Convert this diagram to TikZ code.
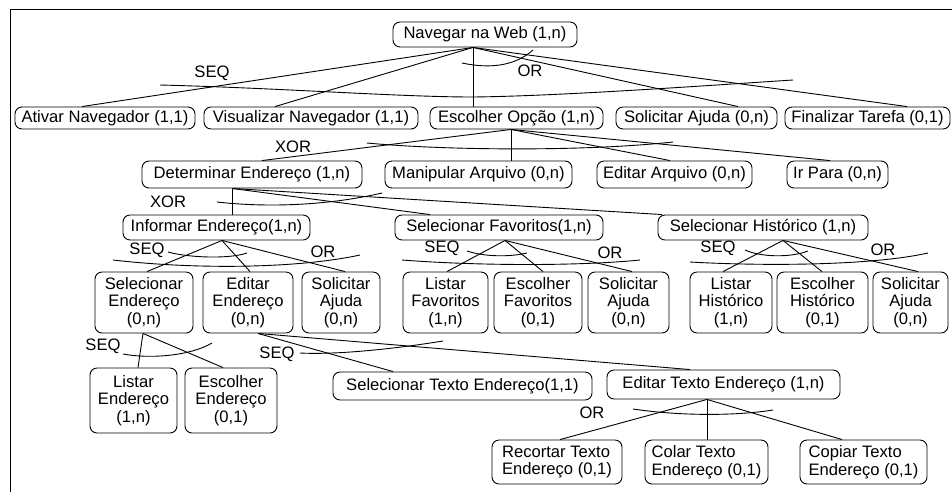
\documentclass[tikz,border=0pt]{standalone}
\usepackage{fontspec}
\setmainfont{Liberation Sans}
\begin{document}
\begin{tikzpicture}[x=1pt,y=-1pt,
  task/.style={draw, rounded corners=7pt, line width=0.9pt, inner sep=0pt,
    align=center, font=\fontsize{16.6}{17.5}\selectfont},
  link/.style={line width=0.9pt},
  oplabel/.style={font=\fontsize{16.6}{17.5}\selectfont, inner sep=0pt}]
\useasboundingbox (0,0) rectangle (952,491);
% frame
\begin{scope}
  \clip (0,0) rectangle (952,491);
  \draw[line width=1pt] (10,530) -- (10,9) -- (990,9);
\end{scope}

% level 0
\node[task, minimum width=184pt, minimum height=25pt] (nav) at (485,34.5) {Navegar na Web (1,n)};

% level 1
\node[task, minimum width=180pt, minimum height=22pt] (ativ) at (105,118) {Ativar Navegador (1,1)};
\node[task, minimum width=214pt, minimum height=22pt] (visu) at (311,118) {Visualizar Navegador (1,1)};
\node[task, minimum width=173pt, minimum height=22pt] (esco) at (516.5,118) {Escolher Opção (1,n)};
\node[task, minimum width=161pt, minimum height=22pt] (soli) at (696.5,118) {Solicitar Ajuda (0,n)};
\node[task, minimum width=165pt, minimum height=22pt] (fina) at (867.5,118) {Finalizar Tarefa (0,1)};

% level 2
\node[task, minimum width=220pt, minimum height=27pt] (dete) at (252,174.5) {Determinar Endereço (1,n)};
\node[task, minimum width=187pt, minimum height=27pt] (mani) at (478.5,174.5) {Manipular Arquivo (0,n)};
\node[task, minimum width=155pt, minimum height=27pt] (edar) at (674.5,174.5) {Editar Arquivo (0,n)};
\node[task, minimum width=101pt, minimum height=27pt] (irpa) at (837.5,174.5) {Ir Para (0,n)};

% level 3
\node[task, minimum width=187pt, minimum height=25pt] (info) at (216.5,227.5) {Informar Endereço(1,n)};
\node[task, minimum width=208pt, minimum height=25pt] (sfav) at (499,227.5) {Selecionar Favoritos(1,n)};
\node[task, minimum width=210pt, minimum height=25pt] (shis) at (763,227.5) {Selecionar Histórico (1,n)};

% level 4
\node[task, minimum width=98pt, minimum height=61pt] (send) at (144,302.5) {Selecionar\\Endereço\\(0,n)};
\node[task, minimum width=90pt, minimum height=61pt] (eend) at (248,302.5) {Editar\\Endereço\\(0,n)};
\node[task, minimum width=78pt, minimum height=61pt] (aju1) at (341,302.5) {Solicitar\\Ajuda\\(0,n)};
\node[task, minimum width=85pt, minimum height=61pt] (lfav) at (445.5,302.5) {Listar\\Favoritos\\(1,n)};
\node[task, minimum width=88pt, minimum height=61pt] (efav) at (538,302.5) {Escolher\\Favoritos\\(0,1)};
\node[task, minimum width=81pt, minimum height=61pt] (aju2) at (628.5,302.5) {Solicitar\\Ajuda\\(0,n)};
\node[task, minimum width=82pt, minimum height=61pt] (lhis) at (731,302.5) {Listar\\Histórico\\(1,n)};
\node[task, minimum width=91pt, minimum height=61pt] (ehis) at (822.5,302.5) {Escolher\\Histórico\\(0,1)};
\node[task, minimum width=75pt, minimum height=61pt] (aju3) at (910.5,302.5) {Solicitar\\Ajuda\\(0,n)};

% level 5
\node[task, minimum width=87pt, minimum height=65pt] (lend) at (133.5,400.5) {Listar\\Endereço\\(1,n)};
\node[task, minimum width=92pt, minimum height=65pt] (eesc) at (231,400.5) {Escolher\\Endereço\\(0,1)};
\node[task, minimum width=259pt, minimum height=28pt] (stex) at (462.5,386) {Selecionar Texto Endereço(1,1)};
\node[task, minimum width=233pt, minimum height=29pt] (etex) at (723.5,384.5) {Editar Texto Endereço (1,n)};

% level 6
\node[task, align=left, minimum width=130pt, minimum height=44pt] (reco) at (557,462) {Recortar Texto\\Endereço (0,1)};
\node[task, align=left, minimum width=123pt, minimum height=44pt] (cola) at (706.5,462) {Colar Texto\\Endereço (0,1)};
\node[task, align=left, minimum width=127pt, minimum height=44pt] (copi) at (863.5,462) {Copiar Texto\\Endereço (0,1)};

% branching points
\coordinate (navb) at (nav.south -| 473,0);
\coordinate (escb) at (esco.south -| 511,0);
\coordinate (detb) at (dete.south -| 232,0);
\coordinate (infb) at (info.south -| 222,0);
\coordinate (favb) at (sfav.south -| 505,0);
\coordinate (hisb) at (shis.south -| 783,0);
\coordinate (sndb) at (send.south -| 143,0);
\coordinate (endb) at (eend.south -| 258,0);
\coordinate (texb) at (etex.south -| 707,0);

% connectors
\draw[link] (navb) -- (ativ.north -| 82,0);
\draw[link] (navb) -- (visu.north -| 275,0);
\draw[link] (navb) -- (esco.north -| 473,0);
\draw[link] (navb) -- (soli.north -| 738,0);
\draw[link] (navb) -- (fina.north -| 907,0);

\draw[link] (escb) -- (dete.north -| 262,0);
\draw[link] (escb) -- (mani.north -| 511,0);
\draw[link] (escb) -- (edar.north -| 670,0);
\draw[link] (escb) -- (irpa.north -| 830,0);

\draw[link] (detb) -- (info.north -| 232,0);
\draw[link] (detb) -- (sfav.north -| 430,0);
\draw[link] (detb) -- (shis.north -| 662,0);

\draw[link] (infb) -- (send.north -| 147,0);
\draw[link] (infb) -- (eend.north -| 250,0);
\draw[link] (infb) -- (aju1.north -| 345,0);

\draw[link] (favb) -- (lfav.north -| 447,0);
\draw[link] (favb) -- (efav.north -| 543,0);
\draw[link] (favb) -- (aju2.north -| 632,0);

\draw[link] (hisb) -- (lhis.north -| 723,0);
\draw[link] (hisb) -- (ehis.north -| 822,0);
\draw[link] (hisb) -- (aju3.north -| 918,0);

\draw[link] (sndb) -- (lend.north -| 138,0);
\draw[link] (sndb) -- (eesc.north -| 223,0);

\draw[link] (endb) -- (stex.north -| 393,0);
\draw[link] (endb) -- (etex.north -| 690,0);

\draw[link] (texb) -- (reco.north -| 560,0);
\draw[link] (texb) -- (cola.north -| 707,0);
\draw[link] (texb) -- (copi.north -| 842,0);

% operator arcs
\draw[link] (160,85) .. controls (280,88) and (400,97) .. (473,97);
\draw[link] (473,97) .. controls (560,96) and (700,86) .. (793,80);
\draw[link] (462,63) .. controls (490,69) and (515,66) .. (533,50);
\draw[link] (367,143) .. controls (440,150) and (580,152) .. (673,142);
\draw[link] (217,202) .. controls (270,208) and (330,205) .. (382,193);
\draw[link] (168,252) .. controls (190,258) and (230,259) .. (247,253);
\draw[link] (113,260) .. controls (200,270) and (300,268) .. (360,255);
\draw[link] (467,251) .. controls (485,257) and (510,257) .. (527,253);
\draw[link] (402,260) .. controls (480,266) and (580,266) .. (640,260);
\draw[link] (745,250) .. controls (760,257) and (790,258) .. (808,251);
\draw[link] (690,262) .. controls (760,266) and (870,266) .. (928,253);
\draw[link] (123,354) .. controls (150,359) and (190,356) .. (212,343);
\draw[link] (300,353) .. controls (340,355) and (400,348) .. (443,341);
\draw[link] (633,409) .. controls (680,416) and (735,416) .. (773,410);

% operator labels
\node[oplabel] (l1) at (212,73) {SEQ};
\node[oplabel] (l2) at (530,71) {OR};
\node[oplabel] (l3) at (293,147) {XOR};
\node[oplabel] (l4) at (168,202) {XOR};
\node[oplabel] (l5) at (147,250) {SEQ};
\node[oplabel] (l6) at (323,252) {OR};
\node[oplabel] (l7) at (442,248) {SEQ};
\node[oplabel] (l8) at (610,253) {OR};
\node[oplabel] (l9) at (718,248) {SEQ};
\node[oplabel] (l10) at (883,250) {OR};
\node[oplabel] (l11) at (103,346) {SEQ};
\node[oplabel] (l12) at (277,354) {SEQ};
\node[oplabel] (l13) at (592,413) {OR};
\end{tikzpicture}
\end{document}
